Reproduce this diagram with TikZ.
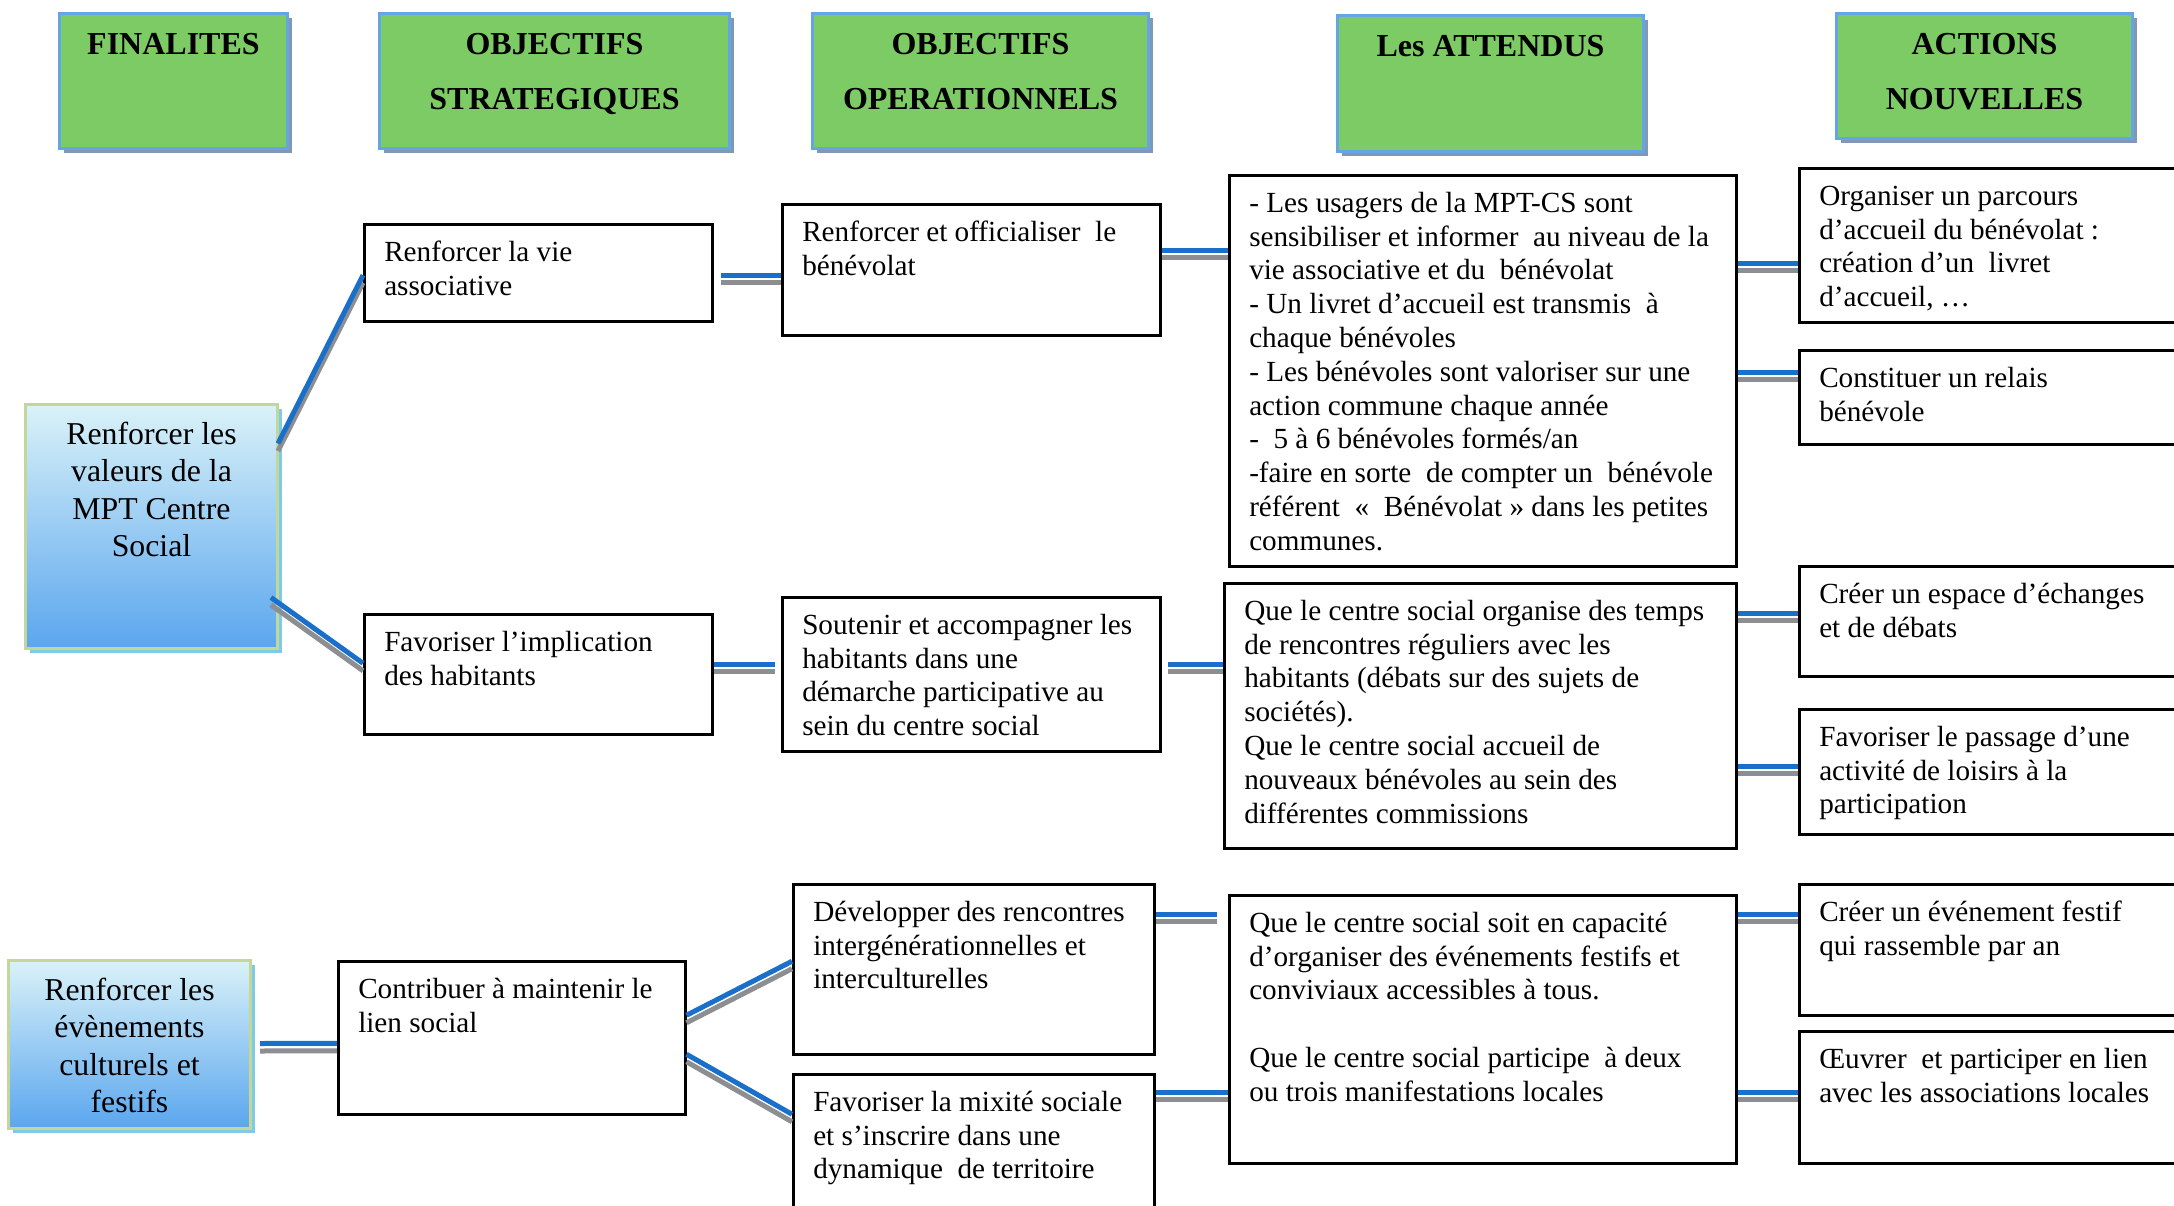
\documentclass[tikz,border=0pt]{standalone}
\usepackage{fontspec}
\setmainfont{Liberation Serif}
\usetikzlibrary{shadows}

\definecolor{hdrgreen}{RGB}{125,203,100}
\definecolor{hdrborder}{RGB}{100,165,230}
\definecolor{hdrshadow}{RGB}{128,152,180}
\definecolor{fintop}{RGB}{218,242,248}
\definecolor{finbot}{RGB}{90,166,238}
\definecolor{finborder}{RGB}{196,215,155}
\definecolor{finshadow}{RGB}{127,203,230}
\definecolor{linkblue}{RGB}{26,111,203}
\definecolor{linkgray}{RGB}{140,142,146}

\newcommand{\hdrtext}[3]{\parbox[t][#2pt][t]{#1pt}{\centering\rule{0pt}{41pt}#3}}
\newcommand{\fintext}[3]{\parbox[t][#2pt][t]{#1pt}{\centering\rule{0pt}{40pt}#3}}
\newcommand{\celltext}[3]{\parbox[t][#2pt][t]{#1pt}{\raggedright\leftskip=20pt\rule{0pt}{37pt}#3}}

\tikzset{
  hdr/.style={draw=hdrborder, line width=3pt, fill=hdrgreen, anchor=north west, inner sep=0pt,
    copy shadow={shadow xshift=4pt, shadow yshift=-4pt, fill=hdrshadow, draw=none},
    font=\fontsize{32}{55}\selectfont\bfseries},
  fin/.style={draw=finborder, line width=3pt, top color=fintop, bottom color=finbot, anchor=north west, inner sep=0pt,
    copy shadow={shadow xshift=4pt, shadow yshift=-4pt, fill=finshadow, draw=none},
    font=\fontsize{31.8}{37.4}\selectfont},
  cell/.style={draw, line width=2.5pt, fill=white, anchor=north west, inner sep=0pt,
    font=\fontsize{29.2}{33.8}\selectfont},
  link/.style={line width=5pt, draw=linkblue,
    preaction={draw=linkgray, line width=5pt, transform canvas={yshift=-7.5pt}}}
}

\begin{document}
\begin{tikzpicture}[x=1pt,y=-1pt]

\path[use as bounding box, clip] (0,0) rectangle (2174,1205);

% column headers
\node[hdr] (hfin) at (58,12) {\hdrtext{228}{135}{FINALITES}};
\node[hdr] (hstrat) at (378,12) {\hdrtext{350}{135}{OBJECTIFS\\STRATEGIQUES}};
\node[hdr] (hoper) at (811,12) {\hdrtext{336}{135}{OBJECTIFS\\OPERATIONNELS}};
\node[hdr] (hatt) at (1336,14) {\hdrtext{306}{136}{Les ATTENDUS}};
\node[hdr] (hact) at (1835,12) {\hdrtext{296}{125}{ACTIONS\\NOUVELLES}};

% finalites
\node[fin] (fin1) at (24,403) {\fintext{252}{244}{Renforcer les\\valeurs de la\\MPT Centre\\Social}};
\node[fin] (fin2) at (7,959) {\fintext{242}{168}{Renforcer les\\évènements\\culturels et\\festifs}};

% objectifs strategiques
\node[cell] (strat1) at (363,223) {\celltext{348}{97}{Renforcer la vie\\associative}};
\node[cell] (strat2) at (363,613) {\celltext{348}{120}{Favoriser l’implication\\des habitants}};
\node[cell] (strat3) at (337,960) {\celltext{347}{153}{Contribuer à maintenir le\\lien social}};

% objectifs operationnels
\node[cell] (oper1) at (781,203) {\celltext{378}{131}{Renforcer et officialiser~ le\\bénévolat}};
\node[cell] (oper2) at (781,596) {\celltext{378}{154}{Soutenir et accompagner les\\habitants dans une\\démarche participative au\\sein du centre social}};
\node[cell] (oper3) at (792,883) {\celltext{361}{170}{Développer des rencontres\\intergénérationnelles et\\interculturelles}};
\node[cell] (oper4) at (792,1073) {\celltext{361}{160}{Favoriser la mixité sociale\\et s’inscrire dans une\\dynamique~ de territoire}};

% attendus
\node[cell] (att1) at (1228,174) {\celltext{507}{391}{- Les usagers de la MPT-CS sont\\sensibiliser et informer~ au niveau de la\\vie associative et du~ bénévolat\\- Un livret d’accueil est transmis~ à\\chaque bénévoles\\- Les bénévoles sont valoriser sur une\\action commune chaque année\\-~ 5 à 6 bénévoles formés/an\\-faire en sorte~ de compter un~ bénévole\\référent~ «~ Bénévolat » dans les petites\\communes.}};
\node[cell] (att2) at (1223,582) {\celltext{512}{265}{Que le centre social organise des temps\\de rencontres réguliers avec les\\habitants (débats sur des sujets de\\sociétés).\\Que le centre social accueil de\\nouveaux bénévoles au sein des\\différentes commissions}};
\node[cell] (att3) at (1228,894) {\celltext{507}{268}{Que le centre social soit en capacité\\d’organiser des événements festifs et\\conviviaux accessibles à tous.\\[33.8pt]Que le centre social participe~ à deux\\ou trois manifestations locales}};

% actions nouvelles
\node[cell] (act1) at (1798,167) {\celltext{420}{154}{Organiser un parcours\\d’accueil du bénévolat :\\création d’un~ livret\\d’accueil, …}};
\node[cell] (act2) at (1798,349) {\celltext{420}{94}{Constituer un relais\\bénévole}};
\node[cell] (act3) at (1798,565) {\celltext{420}{110}{Créer un espace d’échanges\\et de débats}};
\node[cell] (act4) at (1798,708) {\celltext{420}{125}{Favoriser le passage d’une\\activité de loisirs à la\\participation}};
\node[cell] (act5) at (1798,883) {\celltext{420}{131}{Créer un événement festif\\qui rassemble par an}};
\node[cell] (act6) at (1798,1030) {\celltext{420}{132}{Œuvrer~ et participer en lien\\avec les associations locales}};

% liens
\draw[link] ([xshift=-1pt,yshift=83pt]fin1.east) -- ([yshift=-2.5pt]strat1.west);
\draw[link] ([xshift=-8pt,yshift=-71pt]fin1.east) -- ([yshift=11pt]strat2.west);
\draw[link] ([xshift=8pt,yshift=1pt]fin2.east) -- ([yshift=-5.5pt]strat3.west);

\draw[link] ([xshift=7pt,yshift=-2.5pt]strat1.east) -- ([yshift=-5.5pt]oper1.west);
\draw[link] ([yshift=10pt]strat2.east) -- ([xshift=-6pt,yshift=10pt]oper2.west);
\draw[link] ([yshift=22.5pt]strat3.east) -- ([yshift=8pt]oper3.west);
\draw[link] ([yshift=-16.5pt]strat3.east) -- ([yshift=40pt]oper4.west);

\draw[link] ([yshift=19.5pt]oper1.east) -- ([yshift=120.5pt]att1.west);
\draw[link] ([xshift=6pt,yshift=10pt]oper2.east) -- ([yshift=51.5pt]att2.west);
\draw[link] ([yshift=55pt]oper3.east) -- ([xshift=-11pt,yshift=115pt]att3.west);
\draw[link] ([yshift=62pt]oper4.east) -- ([yshift=-63pt]att3.west);

\draw[link] ([yshift=107.5pt]att1.east) -- ([yshift=-18pt]act1.west);
\draw[link] ([yshift=-1.5pt]att1.east) -- ([yshift=25pt]act2.west);
\draw[link] ([yshift=102.5pt]att2.east) -- ([yshift=8pt]act3.west);
\draw[link] ([yshift=-50.5pt]att2.east) -- ([yshift=5.5pt]act4.west);
\draw[link] ([yshift=115pt]att3.east) -- ([yshift=35.5pt]act5.west);
\draw[link] ([yshift=-63pt]att3.east) -- ([yshift=5pt]act6.west);

\end{tikzpicture}
\end{document}
